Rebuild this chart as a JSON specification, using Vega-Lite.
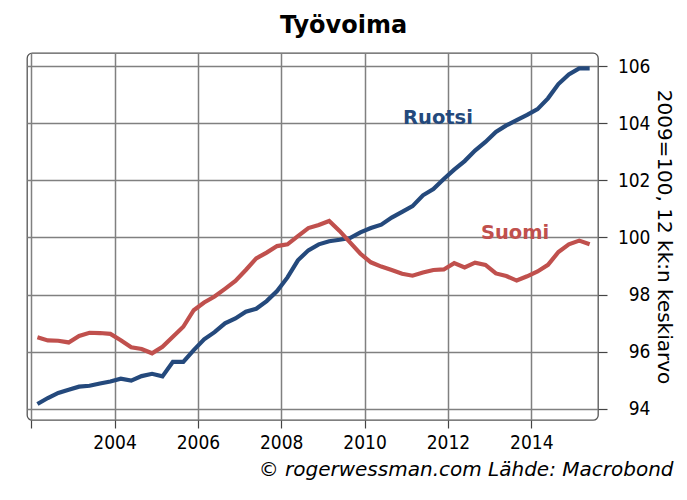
{
  "$schema": "https://vega.github.io/schema/vega-lite/v6.json",
  "width": 571,
  "height": 367,
  "autosize": {"type": "none"},
  "padding": {"left": 27, "top": 53, "right": 89, "bottom": 80},
  "background": "white",
  "title": {"text": "Työvoima", "font": "DejaVu Sans", "fontSize": 24, "fontWeight": "bold", "color": "#000000", "anchor": "middle", "dx": 31, "offset": 15},
  "config": {
    "view": {"stroke": "#555555", "strokeWidth": 1.3, "cornerRadius": 5},
    "font": "DejaVu Sans"
  },
  "datasets": {
    "series": [
      {"t": 2002.15, "Ruotsi": 94.16, "Suomi": 96.50},
      {"t": 2002.40, "Ruotsi": 94.37, "Suomi": 96.39},
      {"t": 2002.65, "Ruotsi": 94.55, "Suomi": 96.38},
      {"t": 2002.90, "Ruotsi": 94.66, "Suomi": 96.32},
      {"t": 2003.15, "Ruotsi": 94.77, "Suomi": 96.55},
      {"t": 2003.40, "Ruotsi": 94.80, "Suomi": 96.66},
      {"t": 2003.65, "Ruotsi": 94.88, "Suomi": 96.65},
      {"t": 2003.90, "Ruotsi": 94.95, "Suomi": 96.62},
      {"t": 2004.15, "Ruotsi": 95.05, "Suomi": 96.40},
      {"t": 2004.40, "Ruotsi": 94.98, "Suomi": 96.15},
      {"t": 2004.65, "Ruotsi": 95.14, "Suomi": 96.09},
      {"t": 2004.90, "Ruotsi": 95.22, "Suomi": 95.94},
      {"t": 2005.15, "Ruotsi": 95.13, "Suomi": 96.17},
      {"t": 2005.40, "Ruotsi": 95.64, "Suomi": 96.52},
      {"t": 2005.65, "Ruotsi": 95.64, "Suomi": 96.87},
      {"t": 2005.90, "Ruotsi": 96.05, "Suomi": 97.45},
      {"t": 2006.15, "Ruotsi": 96.43, "Suomi": 97.72},
      {"t": 2006.40, "Ruotsi": 96.68, "Suomi": 97.93},
      {"t": 2006.65, "Ruotsi": 96.99, "Suomi": 98.20},
      {"t": 2006.90, "Ruotsi": 97.16, "Suomi": 98.48},
      {"t": 2007.15, "Ruotsi": 97.40, "Suomi": 98.86},
      {"t": 2007.40, "Ruotsi": 97.50, "Suomi": 99.27},
      {"t": 2007.65, "Ruotsi": 97.77, "Suomi": 99.47},
      {"t": 2007.90, "Ruotsi": 98.12, "Suomi": 99.70},
      {"t": 2008.15, "Ruotsi": 98.60, "Suomi": 99.76},
      {"t": 2008.40, "Ruotsi": 99.20, "Suomi": 100.05},
      {"t": 2008.65, "Ruotsi": 99.55, "Suomi": 100.33},
      {"t": 2008.90, "Ruotsi": 99.76, "Suomi": 100.44},
      {"t": 2009.15, "Ruotsi": 99.87, "Suomi": 100.58},
      {"t": 2009.40, "Ruotsi": 99.92, "Suomi": 100.23},
      {"t": 2009.65, "Ruotsi": 99.98, "Suomi": 99.83},
      {"t": 2009.90, "Ruotsi": 100.18, "Suomi": 99.43},
      {"t": 2010.15, "Ruotsi": 100.33, "Suomi": 99.13},
      {"t": 2010.40, "Ruotsi": 100.45, "Suomi": 98.98},
      {"t": 2010.65, "Ruotsi": 100.70, "Suomi": 98.86},
      {"t": 2010.90, "Ruotsi": 100.90, "Suomi": 98.73},
      {"t": 2011.15, "Ruotsi": 101.10, "Suomi": 98.66},
      {"t": 2011.40, "Ruotsi": 101.48, "Suomi": 98.77},
      {"t": 2011.65, "Ruotsi": 101.70, "Suomi": 98.86},
      {"t": 2011.90, "Ruotsi": 102.05, "Suomi": 98.88},
      {"t": 2012.15, "Ruotsi": 102.38, "Suomi": 99.10},
      {"t": 2012.40, "Ruotsi": 102.68, "Suomi": 98.95},
      {"t": 2012.65, "Ruotsi": 103.05, "Suomi": 99.12},
      {"t": 2012.90, "Ruotsi": 103.35, "Suomi": 99.04},
      {"t": 2013.15, "Ruotsi": 103.70, "Suomi": 98.74},
      {"t": 2013.40, "Ruotsi": 103.93, "Suomi": 98.65},
      {"t": 2013.65, "Ruotsi": 104.12, "Suomi": 98.49},
      {"t": 2013.90, "Ruotsi": 104.30, "Suomi": 98.64},
      {"t": 2014.15, "Ruotsi": 104.50, "Suomi": 98.81},
      {"t": 2014.40, "Ruotsi": 104.88, "Suomi": 99.04},
      {"t": 2014.65, "Ruotsi": 105.38, "Suomi": 99.49},
      {"t": 2014.90, "Ruotsi": 105.72, "Suomi": 99.76},
      {"t": 2015.15, "Ruotsi": 105.93, "Suomi": 99.89},
      {"t": 2015.40, "Ruotsi": 105.93, "Suomi": 99.76}
    ],
    "labels": [
      {"t": 2011.76, "v": 103.97, "name": "Ruotsi"},
      {"t": 2013.61, "v": 99.94, "name": "Suomi"}
    ]
  },
  "layer": [
    {
      "data": {"name": "series"},
      "transform": [{"fold": ["Ruotsi", "Suomi"], "as": ["name", "v"]}],
      "mark": {"type": "line", "strokeWidth": 4.2, "clip": true},
      "encoding": {
        "x": {
          "field": "t", "type": "quantitative",
          "scale": {"domain": [2001.9, 2015.6], "nice": false, "zero": false},
          "axis": {
            "values": [2002, 2004, 2006, 2008, 2010, 2012, 2014],
            "format": "d",
            "labelExpr": "datum.value == 2002 ? '' : datum.label",
            "grid": true, "gridColor": "#808080", "gridWidth": 1.5,
            "domain": false, "ticks": true, "tickSize": 8, "tickColor": "#444444", "tickWidth": 1.2,
            "labelFont": "DejaVu Sans Condensed, Liberation Sans", "labelFontSize": 19, "labelColor": "#000000", "labelPadding": 5,
            "title": "© rogerwessman.com Lähde: Macrobond",
            "titleFont": "DejaVu Sans", "titleFontStyle": "italic", "titleFontWeight": "normal", "titleFontSize": 20, "titleColor": "#000000",
            "titleX": 646, "titleY": 55, "titleAlign": "right", "titleBaseline": "alphabetic"
          }
        },
        "y": {
          "field": "v", "type": "quantitative",
          "scale": {"domain": [93.6, 106.47], "nice": false, "zero": false},
          "axis": {
            "orient": "right",
            "values": [94, 95, 96, 97, 98, 99, 100, 101, 102, 103, 104, 105, 106],
            "labelExpr": "datum.value % 2 == 0 ? datum.label : ''",
            "grid": true, "gridColor": "#808080", "gridWidth": 1.5,
            "domain": false, "tickSize": 9, "tickColor": "#444444", "tickWidth": 1.2,
            "labelFont": "DejaVu Sans Condensed, Liberation Sans", "labelFontSize": 19, "labelColor": "#000000",
            "labelAlign": "right", "labelBaseline": "middle", "labelPadding": 43,
            "title": "2009=100, 12 kk:n keskiarvo",
            "titleFont": "DejaVu Sans", "titleFontSize": 20, "titleFontWeight": "normal", "titleColor": "#000000",
            "titleAngle": 90, "titleX": 65, "titleY": 183.5, "titleAlign": "center", "titleBaseline": "middle"
          }
        },
        "color": {
          "field": "name", "type": "nominal",
          "scale": {"domain": ["Ruotsi", "Suomi"], "range": ["#24497c", "#c0504d"]},
          "legend": null
        }
      }
    },
    {
      "data": {"name": "labels"},
      "mark": {"type": "text", "font": "DejaVu Sans", "fontWeight": "bold", "fontSize": 19.5, "align": "center", "baseline": "alphabetic"},
      "encoding": {
        "x": {"field": "t", "type": "quantitative"},
        "y": {"field": "v", "type": "quantitative"},
        "text": {"field": "name"},
        "color": {"field": "name", "type": "nominal", "legend": null}
      }
    }
  ]
}
